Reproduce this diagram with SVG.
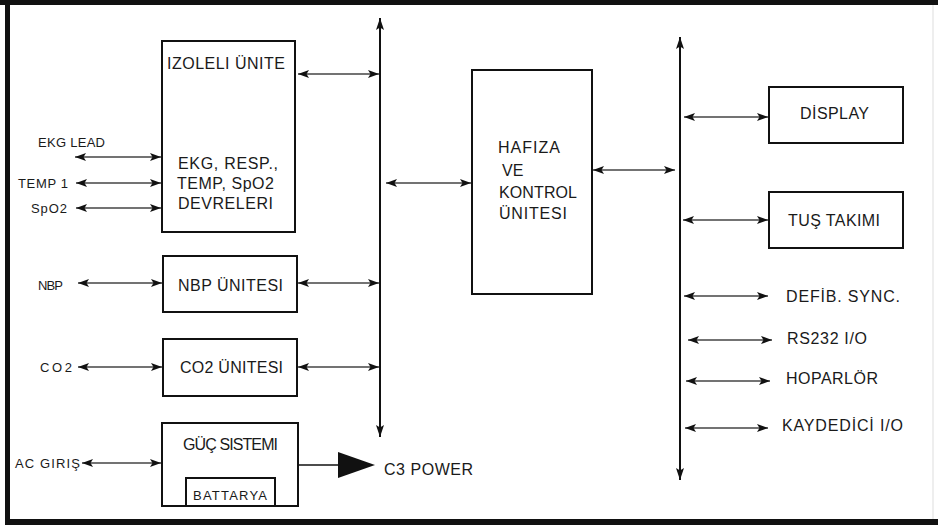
<svg xmlns="http://www.w3.org/2000/svg" width="938" height="525" viewBox="0 0 938 525">
<style>
.box{fill:#fff;stroke:#111;stroke-width:2}
.con{stroke:#444;stroke-width:1.3;fill:none;marker-start:url(#ah);marker-end:url(#ah)}
.bus{stroke:#111;stroke-width:2;fill:none;marker-start:url(#ahv);marker-end:url(#ahv)}
text{font-family:"Liberation Sans",Arial,sans-serif;fill:#1a1a1a}
.t{font-size:16px}
.s{font-size:13px}
</style>
<defs>
<marker id="ah" markerUnits="userSpaceOnUse" markerWidth="12" markerHeight="10" refX="11" refY="4.5" orient="auto-start-reverse" viewBox="0 0 12 10">
<path d="M0,0.5 L11,4.5 L0,8.5 L2.5,4.5 z" fill="#111"/>
</marker>
<marker id="ahv" markerUnits="userSpaceOnUse" markerWidth="13" markerHeight="10" refX="12" refY="4.5" orient="auto-start-reverse" viewBox="0 0 13 10">
<path d="M0,0.5 L12,4.5 L0,8.5 L2.5,4.5 z" fill="#111"/>
</marker>
</defs>
<rect width="938" height="525" fill="#fff"/>
<g id="frame">
<rect x="0" y="0" width="938" height="5" fill="#111"/>
<rect x="5" y="0" width="5" height="525" fill="#111"/>
<rect x="5" y="519" width="933" height="6" fill="#111"/>
<line x1="933" y1="5" x2="933" y2="519" stroke="#ddd" stroke-width="1"/>
</g>
<g id="connectors">
<line class="con" x1="75" y1="157" x2="161" y2="157"/>
<line class="con" x1="76" y1="183" x2="161" y2="183"/>
<line class="con" x1="76" y1="208" x2="161" y2="208"/>
<line class="con" x1="298" y1="74" x2="379" y2="74"/>
<line class="con" x1="78" y1="283" x2="162" y2="283"/>
<line class="con" x1="298" y1="283" x2="379" y2="283"/>
<line class="con" x1="78" y1="367" x2="162" y2="367"/>
<line class="con" x1="298" y1="367" x2="379" y2="367"/>
<line class="con" x1="82" y1="463" x2="161" y2="463"/>
<line class="con" x1="386" y1="183" x2="471" y2="183"/>
<line class="con" x1="593" y1="170" x2="675" y2="170"/>
<line class="con" x1="684" y1="117" x2="768" y2="117"/>
<line class="con" x1="683" y1="220" x2="768" y2="220"/>
<line class="con" x1="684" y1="296" x2="768" y2="296"/>
<line class="con" x1="688" y1="340" x2="772" y2="340"/>
<line class="con" x1="686" y1="381" x2="770" y2="381"/>
<line class="con" x1="685" y1="428" x2="768" y2="428"/>
<line class="bus" x1="380" y1="18" x2="380" y2="437"/>
<line class="bus" x1="680" y1="37" x2="680" y2="480"/>
<line x1="298" y1="465" x2="340" y2="465" stroke="#111" stroke-width="1.5"/>
<polygon points="338,452 375,465 338,478" fill="#111"/>
</g>
<g id="izoleli">
<rect class="box" x="162" y="41" width="133" height="191"/>
<text class="t" x="167" y="68.5" textLength="118" lengthAdjust="spacing">IZOLELI ÜNITE</text>
<text class="t" x="178" y="169" textLength="100" lengthAdjust="spacing">EKG, RESP.,</text>
<text class="t" x="177" y="189" textLength="97" lengthAdjust="spacing">TEMP, SpO2</text>
<text class="t" x="178" y="209" textLength="95" lengthAdjust="spacing">DEVRELERI</text>
</g>
<g id="inputs">
<text class="s" x="38" y="146.5" textLength="67" lengthAdjust="spacing">EKG LEAD</text>
<text class="s" x="18" y="187.5" textLength="50" lengthAdjust="spacing">TEMP 1</text>
<text class="s" x="31" y="212.5" textLength="36" lengthAdjust="spacing">SpO2</text>
<text class="s" x="38" y="289.5" textLength="25" lengthAdjust="spacing">NBP</text>
<text class="s" x="40" y="371.5" textLength="32" lengthAdjust="spacing">CO2</text>
<text class="s" x="15" y="467.5" textLength="65" lengthAdjust="spacing">AC GIRIŞ</text>
</g>
<g id="nbp">
<rect class="box" x="163" y="256" width="134" height="56"/>
<text class="t" x="178" y="291" textLength="105" lengthAdjust="spacing">NBP ÜNITESI</text>
</g>
<g id="co2">
<rect class="box" x="163" y="339" width="134" height="57"/>
<text class="t" x="180" y="373" textLength="103" lengthAdjust="spacing">CO2 ÜNITESI</text>
</g>
<g id="guc">
<rect class="box" x="162" y="423" width="136" height="83"/>
<text class="t" x="183" y="450" textLength="95" lengthAdjust="spacing">GÜÇ SISTEMI</text>
<rect class="box" x="186" y="478" width="89" height="28"/>
<text class="s" x="193" y="500" textLength="74" lengthAdjust="spacing">BATTARYA</text>
</g>
<g id="c3power">
<text class="t" x="384" y="475" textLength="89" lengthAdjust="spacing">C3 POWER</text>
</g>
<g id="hafiza">
<rect class="box" x="472" y="70" width="120" height="224"/>
<text class="t" x="498" y="153" textLength="62" lengthAdjust="spacing">HAFIZA</text>
<text class="t" x="502" y="176">VE</text>
<text class="t" x="499" y="198" textLength="78" lengthAdjust="spacing">KONTROL</text>
<text class="t" x="499" y="219" textLength="68" lengthAdjust="spacing">ÜNITESI</text>
</g>
<g id="display">
<rect class="box" x="769" y="87" width="134" height="56"/>
<text class="t" x="800" y="119" textLength="69" lengthAdjust="spacing">DİSPLAY</text>
</g>
<g id="tus">
<rect class="box" x="769" y="192" width="134" height="56"/>
<text class="t" x="788" y="226" textLength="92" lengthAdjust="spacing">TUŞ TAKIMI</text>
</g>
<g id="outputs">
<text class="t" x="786" y="302" textLength="114" lengthAdjust="spacing">DEFİB. SYNC.</text>
<text class="t" x="787" y="344" textLength="80" lengthAdjust="spacing">RS232 I/O</text>
<text class="t" x="786" y="384" textLength="92" lengthAdjust="spacing">HOPARLÖR</text>
<text class="t" x="782" y="431" textLength="121" lengthAdjust="spacing">KAYDEDİCİ I/O</text>
</g>
</svg>
